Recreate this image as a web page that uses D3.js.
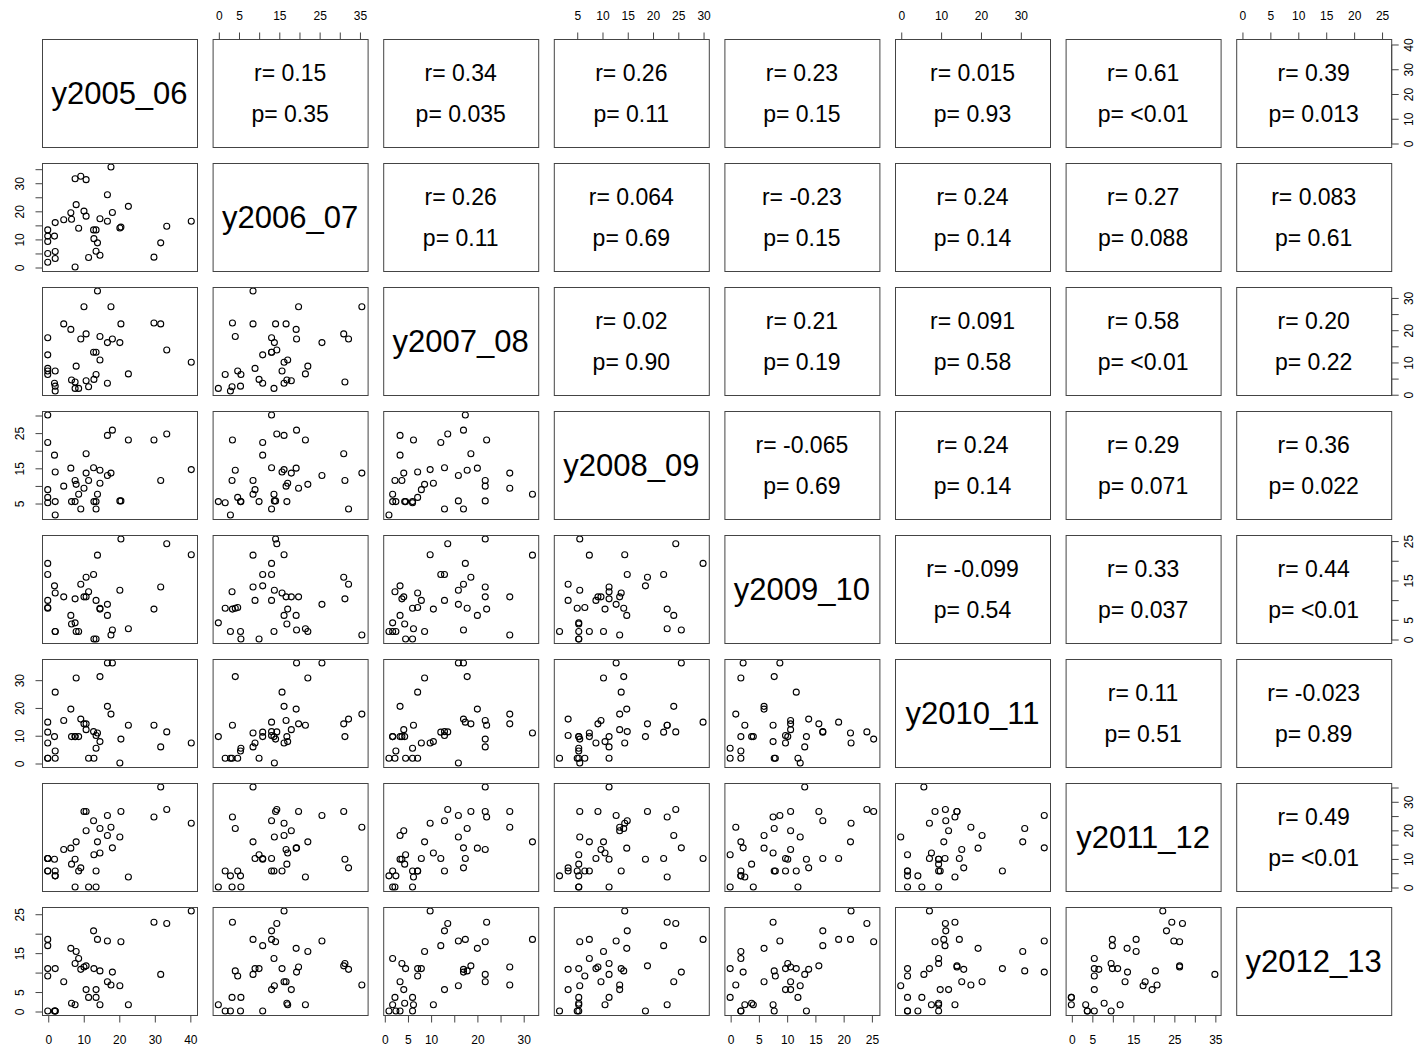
<!DOCTYPE html>
<html>
<head>
<meta charset="utf-8">
<script src="https://cdn.jsdelivr.net/npm/d3@7"></script>
<style>
  body { margin: 0; background: #fff; }
  text { font-family: "Liberation Sans", Arial, sans-serif; fill: #000; }
</style>
</head>
<body>
<svg id="chart" width="1417" height="1050"></svg>
<script>
// Variable names (one per row/column of the scatterplot matrix)
const names = ["y2005_06", "y2006_07", "y2007_08", "y2008_09", "y2009_10", "y2010_11", "y2011_12", "y2012_13"];

// Observations (same order in every series)
const y2005_06 = [0, 0, 0, 0, 0, 1.9, 2.1, 2.1, 2.1, 4.5, 6.5, 6.7, 7.7, 7.7, 8.0, 8.7, 9.3, 10.2, 10.8, 10.8, 11.5, 12.9, 13.0, 13.6, 13.6, 14.0, 14.7, 14.7, 16.8, 16.8, 17.8, 18.2, 20.3, 20.6, 22.7, 29.9, 31.8, 33.5, 40.4];
const y2006_07 = [13.2, 11, 9.1, 4.8, 1.7, 11, 15.8, 5.5, 3, 16.8, 19.3, 17, 31.4, 0, 22.2, 13.8, 32.3, 19.9, 31.1, 18.1, 3.4, 13.2, 10.1, 13.2, 5.6, 8.6, 4.2, 17.2, 25.7, 16.3, 35.6, 19.4, 13.9, 14.2, 21.6, 3.5, 8.6, 14.5, 16.3];
const y2007_08 = [17.5, 12.2, 8.0, 7.2, 6.1, 3.4, 7.2, 2.5, 1.0, 21.8, 20.1, 4.4, 3.8, 1.8, 8.7, 1.8, 17.1, 27.1, 18.7, 4.2, 2.3, 13.0, 4.6, 13.0, 6.1, 32.0, 17.9, 10.6, 16.0, 3.4, 27.1, 17.1, 16.0, 21.8, 6.3, 22.1, 21.8, 13.7, 9.9];
const y2008_09 = [30.0, 22.2, 8.8, 6.6, 5.1, 18.6, 13.8, 5.4, 1.6, 9.8, 14.9, 5.4, 11.4, 5.4, 10.3, 7.5, 3.3, 9.2, 19.0, 13.5, 11.4, 15.0, 5.4, 3.3, 5.4, 7.5, 14.3, 10.6, 12.8, 24.2, 13.5, 25.7, 5.6, 5.6, 22.9, 22.9, 11.4, 24.6, 14.5];
const y2009_10 = [19.2, 16.4, 9.8, 8.0, 7.8, 13.5, 11.7, 1.9, 1.9, 10.7, 6.0, 3.8, 10.2, 4.1, 1.9, 1.9, 13.9, 10.7, 15.7, 10.7, 12.0, 16.4, 0, 9.8, 0, 21.3, 7.8, 7.6, 8.8, 6.0, 1.0, 2.3, 12.4, 25.4, 2.6, 7.6, 13.2, 24.2, 21.4];
const y2010_11 = [14.7, 11.1, 7.2, 1.7, 1.7, 9.5, 25.5, 4.3, 1.7, 15.3, 19.4, 9.5, 9.5, 9.5, 30.6, 9.5, 15.8, 14.1, 14.1, 12.0, 1.7, 11.3, 1.7, 9.9, 5.3, 10.8, 31.1, 7.7, 36.0, 20.4, 17.6, 36.0, 0, 8.6, 13.6, 13.6, 5.8, 11.2, 7.2];
const y2011_12 = [10.0, 10.0, 10.0, 5.6, 5.6, 9.7, 5.6, 3.9, 3.9, 13.1, 13.6, 8.0, 9.7, 0, 15.8, 5.6, 6.7, 26.4, 26.4, 19.7, 0, 23.2, 11.3, 5.6, 0, 15.8, 20.5, 11.9, 25.0, 18.0, 20.9, 13.7, 17.5, 26.4, 3.5, 24.5, 35.0, 27.1, 22.3];
const y2012_13 = [18.4, 16.8, 10.9, 9.0, 0, 0, 10.9, 0, 0, 7.5, 16.1, 2.0, 12.2, 1.6, 15.3, 13.5, 10.7, 11.3, 11.6, 5.5, 3.5, 20.6, 10.9, 5.5, 3.5, 18.4, 10.3, 1.6, 18.0, 7.5, 6.7, 10.0, 6.5, 17.8, 1.6, 22.8, 9.4, 22.5, 25.7];

const series = [y2005_06, y2006_07, y2007_08, y2008_09, y2009_10, y2010_11, y2011_12, y2012_13];

// Tick positions per variable, and which of them carry a label
const tickValues = [
  [0, 10, 20, 30, 40],
  [0, 5, 10, 15, 20, 25, 30, 35],
  [0, 5, 10, 15, 20, 25, 30],
  [5, 10, 15, 20, 25, 30],
  [0, 5, 10, 15, 20, 25],
  [0, 10, 20, 30],
  [0, 5, 10, 15, 20, 25, 30, 35],
  [0, 5, 10, 15, 20, 25]
];
const xTickLabels = [
  [0, 10, 20, 30, 40], [0, 5, 15, 25, 35], [0, 5, 10, 20, 30], [5, 10, 15, 20, 25, 30],
  [0, 5, 10, 15, 20, 25], [0, 10, 20, 30], [0, 5, 15, 25, 35], [0, 5, 10, 15, 20, 25]
];
const yTickLabels = [
  [0, 10, 20, 30, 40], [0, 10, 20, 30], [0, 10, 20, 30], [5, 15, 25],
  [0, 5, 15, 25], [0, 10, 20, 30], [0, 10, 20, 30], [0, 5, 15, 25]
];

// Correlation labels for the upper triangle, row by row
const rLabels = [
  ["0.15", "0.34", "0.26", "0.23", "0.015", "0.61", "0.39"],
  ["0.26", "0.064", "-0.23", "0.24", "0.27", "0.083"],
  ["0.02", "0.21", "0.091", "0.58", "0.20"],
  ["-0.065", "0.24", "0.29", "0.36"],
  ["-0.099", "0.33", "0.44"],
  ["0.11", "-0.023"],
  ["0.49"]
];
const pLabels = [
  ["0.35", "0.035", "0.11", "0.15", "0.93", "<0.01", "0.013"],
  ["0.11", "0.69", "0.15", "0.14", "0.088", "0.61"],
  ["0.90", "0.19", "0.58", "<0.01", "0.22"],
  ["0.69", "0.14", "0.071", "0.022"],
  ["0.54", "0.037", "<0.01"],
  ["0.51", "0.89"],
  ["<0.01"]
];

// Panel grid geometry
const nVar = names.length;
const left0 = 42, top0 = 39;
const panelW = 155, panelH = 108;
const stepX = 170.6, stepY = 124;
const colX = i => left0 + i * stepX;
const rowY = j => top0 + j * stepY;

// Each variable's domain is padded by 4% on both sides
const domains = series.map(s => {
  const [lo, hi] = d3.extent(s);
  const pad = (hi - lo) * 0.04;
  return [lo - pad, hi + pad];
});
const xScales = domains.map(d => d3.scaleLinear().domain(d).range([0, panelW]));
const yScales = domains.map(d => d3.scaleLinear().domain(d).range([panelH, 0]));

const svg = d3.select("#chart");
const tickLen = 7;
const tickFont = 12;

for (let r = 0; r < nVar; r++) {
  for (let c = 0; c < nVar; c++) {
    const g = svg.append("g").attr("transform", `translate(${colX(c)},${rowY(r)})`);

    if (r === c) {
      g.append("text")
        .attr("x", panelW / 2).attr("y", panelH / 2)
        .attr("dy", "0.36em")
        .attr("text-anchor", "middle")
        .style("font-size", "31px")
        .text(names[r]);
    } else if (c > r) {
      const k = c - r - 1;
      g.append("text")
        .attr("x", panelW / 2).attr("y", panelH / 2 - 20)
        .attr("dy", "0.36em")
        .attr("text-anchor", "middle")
        .style("font-size", "23px")
        .text("r= " + rLabels[r][k]);
      g.append("text")
        .attr("x", panelW / 2).attr("y", panelH / 2 + 21)
        .attr("dy", "0.36em")
        .attr("text-anchor", "middle")
        .style("font-size", "23px")
        .text("p= " + pLabels[r][k]);
    } else {
      const xs = xScales[c], ys = yScales[r];
      const pts = series[c].map((v, i) => [v, series[r][i]]);
      g.selectAll("circle")
        .data(pts)
        .join("circle")
        .attr("cx", d => xs(d[0]))
        .attr("cy", d => ys(d[1]))
        .attr("r", 3)
        .attr("fill", "none")
        .attr("stroke", "#000")
        .attr("stroke-width", 1.1);
    }

    g.append("rect")
      .attr("x", 0.5).attr("y", 0.5)
      .attr("width", panelW).attr("height", panelH)
      .attr("fill", "none")
      .attr("stroke", "#444")
      .attr("stroke-width", 1);

    // Axes on alternating outer edges
    const fmt = labels => v => labels.includes(v) ? String(v) : "";
    if (r === 0 && c % 2 === 1) {
      const ax = d3.axisTop(xScales[c]).tickValues(tickValues[c])
        .tickFormat(fmt(xTickLabels[c])).tickSize(tickLen).tickPadding(13);
      const a = g.append("g").attr("transform", "translate(0.5,0.5)").call(ax);
      styleAxis(a);
    }
    if (r === nVar - 1 && c % 2 === 0) {
      const ax = d3.axisBottom(xScales[c]).tickValues(tickValues[c])
        .tickFormat(fmt(xTickLabels[c])).tickSize(tickLen).tickPadding(13);
      const a = g.append("g").attr("transform", `translate(0.5,${panelH + 0.5})`).call(ax);
      styleAxis(a);
    }
    if (c === 0 && r % 2 === 1) {
      const ax = d3.axisLeft(yScales[r]).tickValues(tickValues[r])
        .tickFormat(fmt(yTickLabels[r])).tickSize(tickLen);
      const a = g.append("g").attr("transform", "translate(0.5,0.5)").call(ax);
      styleAxis(a);
      a.selectAll(".tick text")
        .attr("x", null).attr("y", null).attr("dy", "0.36em")
        .attr("text-anchor", "middle")
        .attr("transform", "translate(-23,0) rotate(-90)");
    }
    if (c === nVar - 1 && r % 2 === 0) {
      const ax = d3.axisRight(yScales[r]).tickValues(tickValues[r])
        .tickFormat(fmt(yTickLabels[r])).tickSize(tickLen);
      const a = g.append("g").attr("transform", `translate(${panelW + 0.5},0.5)`).call(ax);
      styleAxis(a);
      a.selectAll(".tick text")
        .attr("x", null).attr("y", null).attr("dy", "0.36em")
        .attr("text-anchor", "middle")
        .attr("transform", "translate(17,0) rotate(-90)");
    }
  }
}

function styleAxis(a) {
  a.select(".domain").remove();
  a.selectAll(".tick line").attr("stroke", "#444");
  a.selectAll(".tick text")
    .style("font-size", tickFont + "px")
    .style("font-family", "'Liberation Sans', Arial, sans-serif")
    .attr("fill", "#000");
  // axis line spanning the first to last tick
  const ticks = a.selectAll(".tick").nodes();
  if (ticks.length > 1) {
    const pos = ticks.map(t => {
      const m = /translate\(([-\d.e]+),([-\d.e]+)\)/.exec(t.getAttribute("transform"));
      return [+m[1], +m[2]];
    });
    a.append("line")
      .attr("x1", pos[0][0]).attr("y1", pos[0][1])
      .attr("x2", pos[pos.length - 1][0]).attr("y2", pos[pos.length - 1][1])
      .attr("stroke", "#444");
  }
}
</script>
</body>
</html>
